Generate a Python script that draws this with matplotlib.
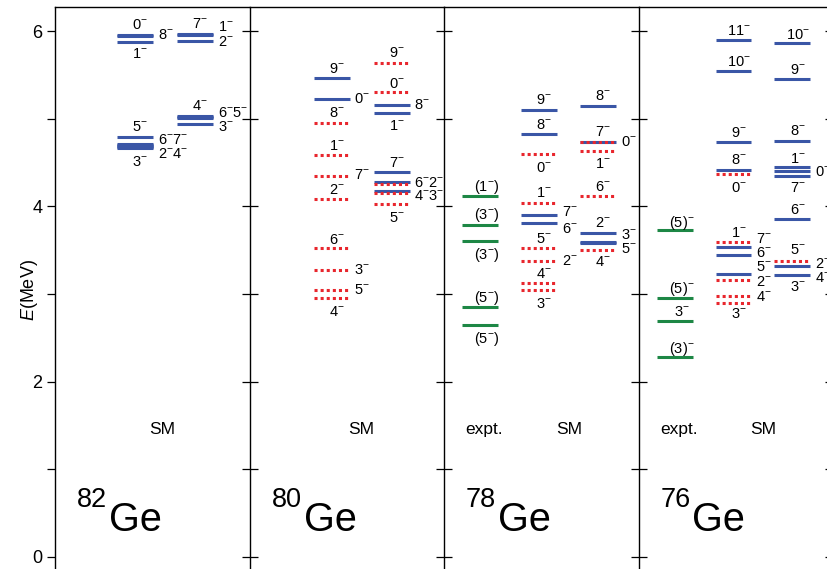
import matplotlib.pyplot as plt

plt.rcParams['font.family'] = 'Liberation Sans'
plt.rcParams['mathtext.fontset'] = 'custom'
plt.rcParams['mathtext.rm'] = 'Liberation Sans'
plt.rcParams['mathtext.it'] = 'Liberation Sans:italic'

BLUE = '#3a56a6'
RED = '#e8262d'
GREEN = '#1d8745'

# mass numbers, left to right
masses = ['82', '80', '78', '76']

# levels: (column, kind, E in MeV)   kind: b = SM solid, r = SM dotted, g = expt
lev82 = [('A', 'b', 5.95), ('A', 'b', 5.94), ('A', 'b', 5.87),
         ('A', 'b', 4.79), ('A', 'b', 4.71), ('A', 'b', 4.70), ('A', 'b', 4.69),
         ('A', 'b', 4.68), ('A', 'b', 4.67),
         ('B', 'b', 5.97), ('B', 'b', 5.96), ('B', 'b', 5.89),
         ('B', 'b', 5.03), ('B', 'b', 5.02), ('B', 'b', 5.01), ('B', 'b', 4.94)]
lev80 = [('A', 'b', 5.46), ('A', 'b', 5.22),
         ('A', 'r', 4.95), ('A', 'r', 4.58), ('A', 'r', 4.35), ('A', 'r', 4.08),
         ('A', 'r', 3.52), ('A', 'r', 3.27), ('A', 'r', 3.05), ('A', 'r', 2.95),
         ('B', 'r', 5.64), ('B', 'r', 5.30), ('B', 'b', 5.16), ('B', 'b', 5.06),
         ('B', 'b', 4.39), ('B', 'b', 4.28), ('B', 'b', 4.18),
         ('B', 'r', 4.26), ('B', 'r', 4.15), ('B', 'r', 4.03)]
lev78 = [('E', 'g', 4.12), ('E', 'g', 3.79), ('E', 'g', 3.61), ('E', 'g', 2.85), ('E', 'g', 2.65),
         ('A', 'b', 5.10), ('A', 'b', 4.82), ('A', 'b', 3.90), ('A', 'b', 3.81),
         ('A', 'r', 4.60), ('A', 'r', 4.04), ('A', 'r', 3.53), ('A', 'r', 3.38),
         ('A', 'r', 3.12), ('A', 'r', 3.05),
         ('B', 'b', 5.14), ('B', 'b', 4.73), ('B', 'b', 3.70), ('B', 'b', 3.59), ('B', 'b', 3.58),
         ('B', 'r', 4.73), ('B', 'r', 4.63), ('B', 'r', 4.12), ('B', 'r', 3.50)]
lev76 = [('E', 'g', 3.73), ('E', 'g', 2.96), ('E', 'g', 2.69), ('E', 'g', 2.28),
         ('A', 'b', 5.90), ('A', 'b', 5.54), ('A', 'b', 4.73), ('A', 'b', 4.41),
         ('A', 'b', 3.54), ('A', 'b', 3.45), ('A', 'b', 3.23),
         ('A', 'r', 4.37), ('A', 'r', 3.59), ('A', 'r', 3.16), ('A', 'r', 2.98), ('A', 'r', 2.90),
         ('B', 'b', 5.86), ('B', 'b', 5.45), ('B', 'b', 4.75), ('B', 'b', 4.45),
         ('B', 'b', 4.40), ('B', 'b', 4.35), ('B', 'b', 3.85), ('B', 'b', 3.32),
         ('B', 'b', 3.22), ('B', 'r', 3.38)]

# spin labels: (text, column, E of label centre, c = over column / r = right of it)
lab82 = [('0', 'A', 6.07, 'c'), ('8', 'A', 5.96, 'r'), ('1', 'A', 5.74, 'c'),
         ('5', 'A', 4.91, 'c'), ('67', 'A', 4.76, 'r'), ('24', 'A', 4.60, 'r'), ('3', 'A', 4.51, 'c'),
         ('7', 'B', 6.08, 'c'), ('1', 'B', 6.05, 'r'), ('2', 'B', 5.87, 'r'),
         ('4', 'B', 5.14, 'c'), ('65', 'B', 5.07, 'r'), ('3', 'B', 4.90, 'r')]
lab80 = [('9', 'A', 5.57, 'c'), ('0', 'A', 5.22, 'r'), ('8', 'A', 5.06, 'c'), ('1', 'A', 4.69, 'c'),
         ('7', 'A', 4.36, 'r'), ('2', 'A', 4.19, 'c'), ('6', 'A', 3.62, 'c'), ('3', 'A', 3.27, 'r'),
         ('5', 'A', 3.05, 'r'), ('4', 'A', 2.80, 'c'),
         ('9', 'B', 5.75, 'c'), ('0', 'B', 5.40, 'c'), ('8', 'B', 5.16, 'r'), ('1', 'B', 4.92, 'c'),
         ('7', 'B', 4.50, 'c'), ('62', 'B', 4.27, 'r'), ('43', 'B', 4.12, 'r'), ('5', 'B', 3.87, 'c')]
lab78 = [('(1)', 'E', 4.22, 'c'), ('(3)', 'E', 3.90, 'c'), ('(3)', 'E', 3.44, 'c'),
         ('(5)', 'E', 2.95, 'c'), ('(5)', 'E', 2.49, 'c'),
         ('9', 'A', 5.21, 'c'), ('8', 'A', 4.93, 'c'), ('0', 'A', 4.44, 'c'), ('1', 'A', 4.15, 'c'),
         ('7', 'A', 3.93, 'r'), ('6', 'A', 3.74, 'r'), ('5', 'A', 3.63, 'c'), ('2', 'A', 3.38, 'r'),
         ('4', 'A', 3.23, 'c'), ('3', 'A', 2.89, 'c'),
         ('8', 'B', 5.26, 'c'), ('7', 'B', 4.85, 'c'), ('0', 'B', 4.73, 'r'), ('1', 'B', 4.48, 'c'),
         ('6', 'B', 4.22, 'c'), ('2', 'B', 3.81, 'c'), ('3', 'B', 3.67, 'r'), ('5', 'B', 3.51, 'r'),
         ('4', 'B', 3.37, 'c')]
lab76 = [('(5)-', 'E', 3.81, 'c'), ('(5)-', 'E', 3.06, 'c'), ('3', 'E', 2.79, 'c'), ('(3)-', 'E', 2.37, 'c'),
         ('11', 'A', 6.00, 'c'), ('10', 'A', 5.65, 'c'), ('9', 'A', 4.84, 'c'), ('8', 'A', 4.53, 'c'),
         ('0', 'A', 4.21, 'c'), ('1', 'A', 3.70, 'c'), ('7', 'A', 3.63, 'r'), ('6', 'A', 3.47, 'r'),
         ('5', 'A', 3.31, 'r'), ('2', 'A', 3.14, 'r'), ('4', 'A', 2.97, 'r'), ('3', 'A', 2.77, 'c'),
         ('10', 'B', 5.95, 'c'), ('9', 'B', 5.55, 'c'), ('8', 'B', 4.86, 'c'), ('1', 'B', 4.54, 'c'),
         ('0', 'B', 4.39, 'r'), ('7', 'B', 4.21, 'c'), ('6', 'B', 3.96, 'c'), ('5', 'B', 3.50, 'c'),
         ('2', 'B', 3.34, 'r'), ('4', 'B', 3.18, 'r'), ('3', 'B', 3.08, 'c')]

levels = [lev82, lev80, lev78, lev76]
labels = [lab82, lab80, lab78, lab76]


def spin(t):
        # '67' -> 6^- 7^- ; '(1)' -> (1^-) ; '(5)-' -> (5)^-
        if t.endswith('-'):
                return '$' + t[:-1] + '^{-}$'
        if t.startswith('('):
                return '$(' + t[1:-1] + '^{-})$'
        if len(t) == 2 and t not in ('10', '11'):
                return '$' + t[0] + '^{-}' + t[1] + '^{-}$'
        return '$' + t + '^{-}$'


# layout in pixels inside one panel
PW = 194.5
colx = [{'A': 62, 'B': 122}, {'A': 64, 'B': 124},
        {'E': 18, 'A': 77, 'B': 136}, {'E': 18, 'A': 77, 'B': 136}]
CW = 36
styles = {'b': (BLUE, '-'), 'r': (RED, (0, (1, 1))), 'g': (GREEN, '-')}

fig = plt.figure(figsize=(8.27, 5.69), dpi=100)
ylo, yhi = -0.137, 6.274

for i in range(4):
        ax = fig.add_axes([(55 + i * PW) / 827, 0, PW / 827, 562 / 569])
        ax.set_xlim(0, PW)
        ax.set_ylim(ylo, yhi)
        ax.set_xticks([])
        ax.set_yticks(range(7))
        ax.spines['bottom'].set_visible(False)
        ax.spines['right'].set_visible(i == 3)
        for s in ax.spines.values():
                s.set_linewidth(1.0)
        if i == 0:
                ax.set_yticklabels(['0', '', '2', '', '4', '', '6'])
                ax.tick_params(axis='y', direction='out', length=6, width=0.9, labelsize=13, pad=3)
        else:
                ax.tick_params(axis='y', direction='inout', length=11, width=0.9,
                               labelleft=False, right=(i == 3))

        # solid first, dotted drawn on top
        for kind in ['b', 'g', 'r']:
                for c, k, e in levels[i]:
                        if k != kind:
                                continue
                        col, ls = styles[k]
                        x0 = colx[i][c]
                        ax.hlines(e, x0, x0 + CW, colors=col, linestyles=ls, linewidth=2.2)

        for t, c, e, pos in labels[i]:
                x0 = colx[i][c]
                if pos == 'c':
                        dx = 7 if c == 'E' else 5
                        ax.text(x0 + CW / 2 + dx, e, spin(t), ha='center', va='center', fontsize=10.5)
                else:
                        ax.text(x0 + CW + 5, e, spin(t), ha='left', va='center', fontsize=10.5)

        if 'E' in colx[i]:
                ax.text(40.5, 1.45, 'expt.', ha='center', va='center', fontsize=12.5)
                ax.text(125, 1.45, 'SM', ha='center', va='center', fontsize=12.5)
        else:
                ax.text(107 if i == 0 else 112, 1.45, 'SM', ha='center', va='center', fontsize=12.5)

        ax.text(22, 0.57, masses[i], ha='left', va='baseline', fontsize=19.5)
        ax.text(54, 0.30, 'Ge', ha='left', va='baseline', fontsize=28.5)

fig.text(30 / 827, 1 - 290 / 569, '$E$(MeV)', rotation=90, ha='center', va='center', fontsize=13)

fig.savefig('out.png', dpi=100)
